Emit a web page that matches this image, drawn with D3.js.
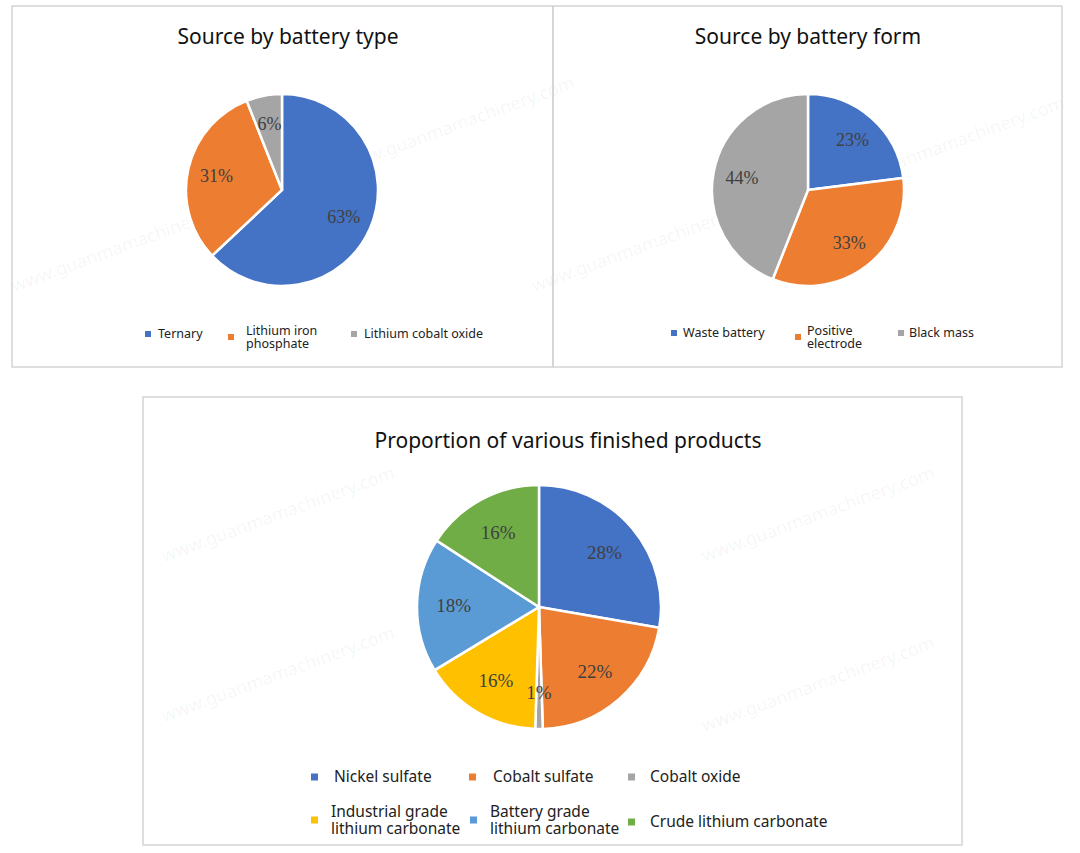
<!DOCTYPE html>
<html><head><meta charset="utf-8">
<script src="https://cdn.jsdelivr.net/npm/d3@7"></script>
<style>body{margin:0;background:#fff}svg{display:block}</style>
</head><body>
<svg id="c" width="1080" height="853"></svg>
<script>
const typeCats = ["Ternary", "Lithium iron phosphate", "Lithium cobalt oxide"];
const typeVals = [63, 31, 6];
const formCats = ["Waste battery", "Positive electrode", "Black mass"];
const formVals = [23, 33, 44];
const prodCats = ["Nickel sulfate", "Cobalt sulfate", "Cobalt oxide", "Industrial grade lithium carbonate", "Battery grade lithium carbonate", "Crude lithium carbonate"];
const prodVals = [28, 22, 1, 16, 18, 16];
const palette = ["#4472C4", "#ED7D31", "#A5A5A5", "#FFC000", "#5B9BD5", "#70AD47"];

const svg = d3.select("#c");
const sans = "'Noto Sans', 'Open Sans', sans-serif";
const serif = "'Liberation Serif', 'DejaVu Serif', serif";

// faint watermark
const wm = svg.append("g");
const wmPos = [[130,250],[460,130],[650,250],[950,150],[280,520],[820,520],[280,680],[820,690]];
wmPos.forEach(([x,y])=>{
  wm.append("text").attr("transform",`translate(${x},${y}) rotate(-20)`)
    .attr("text-anchor","middle").attr("font-family",sans).attr("font-size",18)
    .attr("fill","#000").attr("fill-opacity",0.05).text("www.guanmamachinery.com");
});

function panel(b){
  svg.append("rect").attr("x",b.x).attr("y",b.y).attr("width",b.w).attr("height",b.h)
    .attr("fill","none").attr("stroke","#d4d4d4").attr("stroke-width",1.5);
}
panel({x:12,y:6,w:541,h:361});
panel({x:553,y:6,w:509,h:361});
panel({x:143,y:397,w:819,h:448});

function drawPie(cats, vals, cx, cy, r, labFont){
  const color = d3.scaleOrdinal().domain(cats).range(palette);
  const pie = d3.pie().sort(null).value(d=>d.v);
  const data = pie(cats.map((c,i)=>({c, v:vals[i]})));
  const arc = d3.arc().innerRadius(0).outerRadius(r);
  const lab = d3.arc().innerRadius(r*0.7).outerRadius(r*0.7);
  const g = svg.append("g").attr("transform",`translate(${cx},${cy})`);
  g.selectAll("path").data(data).join("path").attr("d",arc)
    .attr("fill",d=>color(d.data.c)).attr("stroke","#fff").attr("stroke-width",2.5);
  g.selectAll("text").data(data).join("text")
    .attr("transform",d=>`translate(${lab.centroid(d)})`)
    .attr("text-anchor","middle").attr("dy","0.35em")
    .attr("font-family",serif).attr("font-size",labFont).attr("fill","#404040")
    .text(d=>d.data.v+"%");
  return color;
}

function title(t,x,y,s){
  svg.append("text").attr("x",x).attr("y",y).attr("text-anchor","middle")
    .attr("font-family",sans).attr("font-size",s).attr("fill","#111").text(t);
}

function legend(items, color, fs, ms){
  items.forEach(it=>{
    svg.append("rect").attr("x",it.mx).attr("y",it.y-ms/2).attr("width",ms).attr("height",ms)
      .attr("fill",color(it.c));
    const lines = it.lines || [it.c];
    const lh = fs*1.1;
    const t = svg.append("text").attr("x",it.tx).attr("font-family",sans).attr("font-size",fs).attr("fill","#222");
    lines.forEach((l,i)=>{
      t.append("tspan").attr("x",it.tx).attr("y",it.y + (i-(lines.length-1)/2)*lh).attr("dy","0.35em").text(l);
    });
  });
}

title("Source by battery type",288,44,21);
const c1 = drawPie(typeCats,typeVals,282,190,96,18);
legend([
  {c:typeCats[0],mx:145,tx:158,y:334},
  {c:typeCats[1],mx:228,tx:246,y:337,lines:["Lithium iron","phosphate"]},
  {c:typeCats[2],mx:351,tx:364,y:334}
],c1,12.5,6);

title("Source by battery form",808,44,21);
const c2 = drawPie(formCats,formVals,808,190,96,18);
legend([
  {c:formCats[0],mx:671,tx:683,y:333},
  {c:formCats[1],mx:795,tx:807,y:337,lines:["Positive","electrode"]},
  {c:formCats[2],mx:898,tx:909,y:333}
],c2,12.5,6);

title("Proportion of various finished products",568,448,21);
const c3 = drawPie(prodCats,prodVals,539,607,122,19);
legend([
  {c:prodCats[0],mx:311,tx:334,y:777},
  {c:prodCats[1],mx:469,tx:493,y:777},
  {c:prodCats[2],mx:628,tx:650,y:777},
  {c:prodCats[3],mx:311,tx:331,y:820,lines:["Industrial grade","lithium carbonate"]},
  {c:prodCats[4],mx:470,tx:490,y:820,lines:["Battery grade","lithium carbonate"]},
  {c:prodCats[5],mx:628,tx:650,y:822}
],c3,15.5,7);
</script>
</body></html>
